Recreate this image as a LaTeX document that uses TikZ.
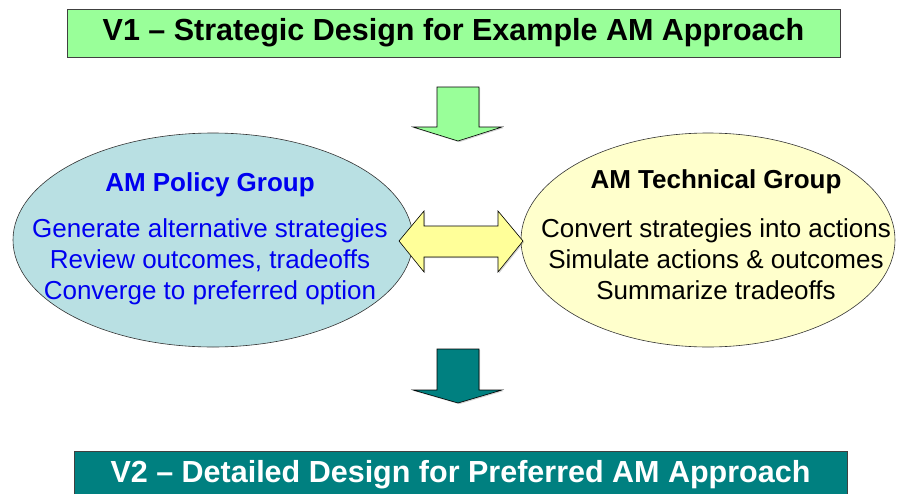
\documentclass[tikz,border=0pt]{standalone}
\usepackage{fontspec}
\setmainfont{Liberation Sans}
\usepackage{tikz}
\usetikzlibrary{shapes.geometric}
\usetikzlibrary{shadows}
\definecolor{bannergreen}{HTML}{99FF99}
\definecolor{bannerteal}{HTML}{008080}
\definecolor{policyblue}{HTML}{B9E0E3}
\definecolor{techyellow}{HTML}{FFFFCC}
\definecolor{linkyellow}{HTML}{FFFF99}
\definecolor{policytext}{HTML}{0000F0}
\newcommand\bannerfont{\fontsize{30.5}{36}\selectfont\bfseries}
\newcommand\groupfont{\fontsize{26}{31}\selectfont}
\tikzstyle{banner}     = [rectangle, draw=black!75, line width=.8pt, minimum width=773pt,
                          minimum height=48pt, inner sep=0pt, font=\bannerfont]
\tikzstyle{group}      = [ellipse, draw=black!80, line width=.6pt, inner sep=0pt]
\tikzstyle{grouptext}  = [align=center, inner sep=0pt, font=\groupfont]
\tikzstyle{blockarrow} = [draw=black, line width=.6pt, line join=miter,
                          drop shadow={shadow xshift=1.2pt, shadow yshift=-1.2pt, opacity=.35}]

\begin{document}
\begin{tikzpicture}[x=1pt, y=-1pt]
  \useasboundingbox (0, 0) rectangle (900, 493);
  % banners
  \draw (453.5, 33) node[banner, fill=bannergreen] (v1) {V1 – Strategic Design for Example AM Approach};
  \draw (460.5, 475) node[banner, fill=bannerteal, text=white] (v2) {V2 – Detailed Design for Preferred AM Approach};
  % the two groups
  \draw (213, 240) node[group, fill=policyblue, minimum width=400pt, minimum height=214pt] (policy) {};
  \draw (708, 240) node[group, fill=techyellow, minimum width=374pt, minimum height=214pt] (tech) {};
  \draw (210, 185) node[grouptext, text=policytext, font=\groupfont\bfseries] (policyhead) {AM Policy Group};
  \draw (210, 262) node[grouptext, text=policytext] (policytasks)
    {Generate alternative strategies\\Review outcomes, tradeoffs\\Converge to preferred option};
  \draw (716, 182) node[grouptext, font=\groupfont\bfseries] (techhead) {AM Technical Group};
  \draw (716, 259) node[grouptext] (techtasks)
    {Convert strategies into actions\\Simulate actions \& outcomes\\Summarize tradeoffs};
  % block arrows
  \draw[blockarrow, fill=bannergreen] (437, 87) -- (479, 87) -- (479, 127) -- (502, 127)
    -- (458, 141) -- (413, 127) -- (437, 127) -- cycle;
  \draw[blockarrow, fill=linkyellow] (399, 241) -- (424, 211) -- (424, 226) -- (498, 226)
    -- (498, 211) -- (523, 241) -- (498, 272) -- (498, 257) -- (424, 257) -- (424, 272) -- cycle;
  \draw[blockarrow, fill=bannerteal] (437, 349) -- (479, 349) -- (479, 390) -- (502, 390)
    -- (458, 403) -- (413, 390) -- (437, 390) -- cycle;
\end{tikzpicture}
\end{document}
